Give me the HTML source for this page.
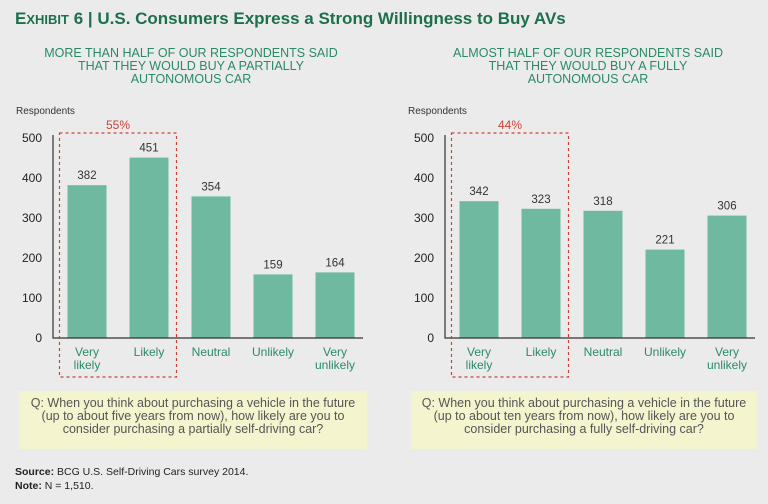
<!DOCTYPE html>
<html><head><meta charset="utf-8"><style>
body{margin:0;background:#ebebeb;font-family:"Liberation Sans",sans-serif;}
#root{position:relative;width:768px;height:504px;overflow:hidden;background:#ebebeb;}
.t{position:absolute;white-space:nowrap;}
</style></head><body>
<div id="root">
<div class="t" style="left:15px;top:9px;font-size:17px;font-weight:bold;color:#1d6f4e;">E<span style="font-size:13px">XHIBIT</span> 6 | U.S. Consumers Express a Strong Willingness to Buy AVs</div>
<div class="t" style="left:41px;top:47px;width:300px;text-align:center;font-size:12.5px;line-height:13px;color:#2a8a66;">MORE THAN HALF OF OUR RESPONDENTS SAID<br>THAT THEY WOULD BUY A PARTIALLY<br>AUTONOMOUS CAR</div>
<div class="t" style="left:433px;top:47px;width:310px;text-align:center;font-size:12.5px;line-height:13px;color:#2a8a66;">ALMOST HALF OF OUR RESPONDENTS SAID<br>THAT THEY WOULD BUY A FULLY<br>AUTONOMOUS CAR</div>
<svg id="chart" width="768" height="504" style="position:absolute;left:0;top:0"></svg>
<div class="t" style="left:19px;top:391px;width:348px;height:58px;background:#f4f4cf;text-align:center;font-size:12.5px;line-height:13px;color:#555;padding-top:6px;box-sizing:border-box;">Q: When you think about purchasing a vehicle in the future<br>(up to about five years from now), how likely are you to<br>consider purchasing a partially self-driving car?</div>
<div class="t" style="left:411px;top:391px;width:346px;height:58px;background:#f4f4cf;text-align:center;font-size:12.5px;line-height:13px;color:#555;padding-top:6px;box-sizing:border-box;">Q: When you think about purchasing a vehicle in the future<br>(up to about ten years from now), how likely are you to<br>consider purchasing a fully self-driving car?</div>
<div class="t" style="left:15px;top:466px;font-size:10.5px;color:#222;"><b>Source:</b> BCG U.S. Self-Driving Cars survey 2014.</div>
<div class="t" style="left:15px;top:480px;font-size:10.5px;color:#222;"><b>Note:</b> N = 1,510.</div>
</div>
<script>
const categories=["Very likely","Likely","Neutral","Unlikely","Very unlikely"];
const partialValues=[382,451,354,159,164];
const fullValues=[342,323,318,221,306];
const yTicks=[0,100,200,300,400,500];
const pctLabels=["55%","44%"];
const NS="http://www.w3.org/2000/svg";
const svg=document.getElementById('chart');
function mk(tag,attrs,txt){const e=document.createElementNS(NS,tag);for(const k in attrs)e.setAttribute(k,attrs[k]);if(txt!==undefined)e.textContent=txt;svg.appendChild(e);return e;}
const y0=338,pxPer=0.4;
function yScale(v){return y0-v*pxPer;}
function drawChart(axisX,values,pct,side){
  const band=62,bw=39,start=axisX+3;
  function xBand(i){return start+i*band+(band-bw)/2;}
  let t=mk('text',{x:axisX-37,y:114,'font-size':10,fill:'#333','font-family':'Liberation Sans'},'Respondents');
  
  yTicks.forEach(v=>{let e=mk('text',{x:axisX-11,y:yScale(v)+4,'font-size':12,fill:'#222','text-anchor':'end','font-family':'Liberation Sans'},v);
    });
  values.forEach((v,i)=>{
    let r=mk('rect',{x:xBand(i),y:yScale(v),width:bw,height:v*pxPer,fill:'#6fb9a1'});
    
    let l=mk('text',{x:xBand(i)+bw/2,y:yScale(v)-6,'font-size':11.5,fill:'#333','text-anchor':'middle','font-family':'Liberation Sans'},v);
    
    const words=categories[i].split(' ');
    words.forEach((w,j)=>{let c=mk('text',{x:xBand(i)+bw/2,y:356+j*13,'font-size':12,fill:'#2a8a66','text-anchor':'middle','font-family':'Liberation Sans'},w);
      });
  });
  let ax=mk('path',{d:`M${axisX} ${yScale(500)-3}V${y0}H${axisX+310}`,stroke:'#333','stroke-width':1.2,fill:'none'});
  
  const bx=xBand(0)-8,bx2=xBand(1)+bw+8;
  let b=mk('rect',{x:bx,y:133,width:bx2-bx,height:244,fill:'none',stroke:'#c9433a','stroke-width':1.2,'stroke-dasharray':'3,3'});
  
  let p=mk('text',{x:(bx+bx2)/2,y:129,'font-size':12,fill:'#c9433a','text-anchor':'middle','font-family':'Liberation Sans'},pct);
  
}
drawChart(53,partialValues,pctLabels[0],'left');
drawChart(445,fullValues,pctLabels[1],'right');
</script>
</body></html>
